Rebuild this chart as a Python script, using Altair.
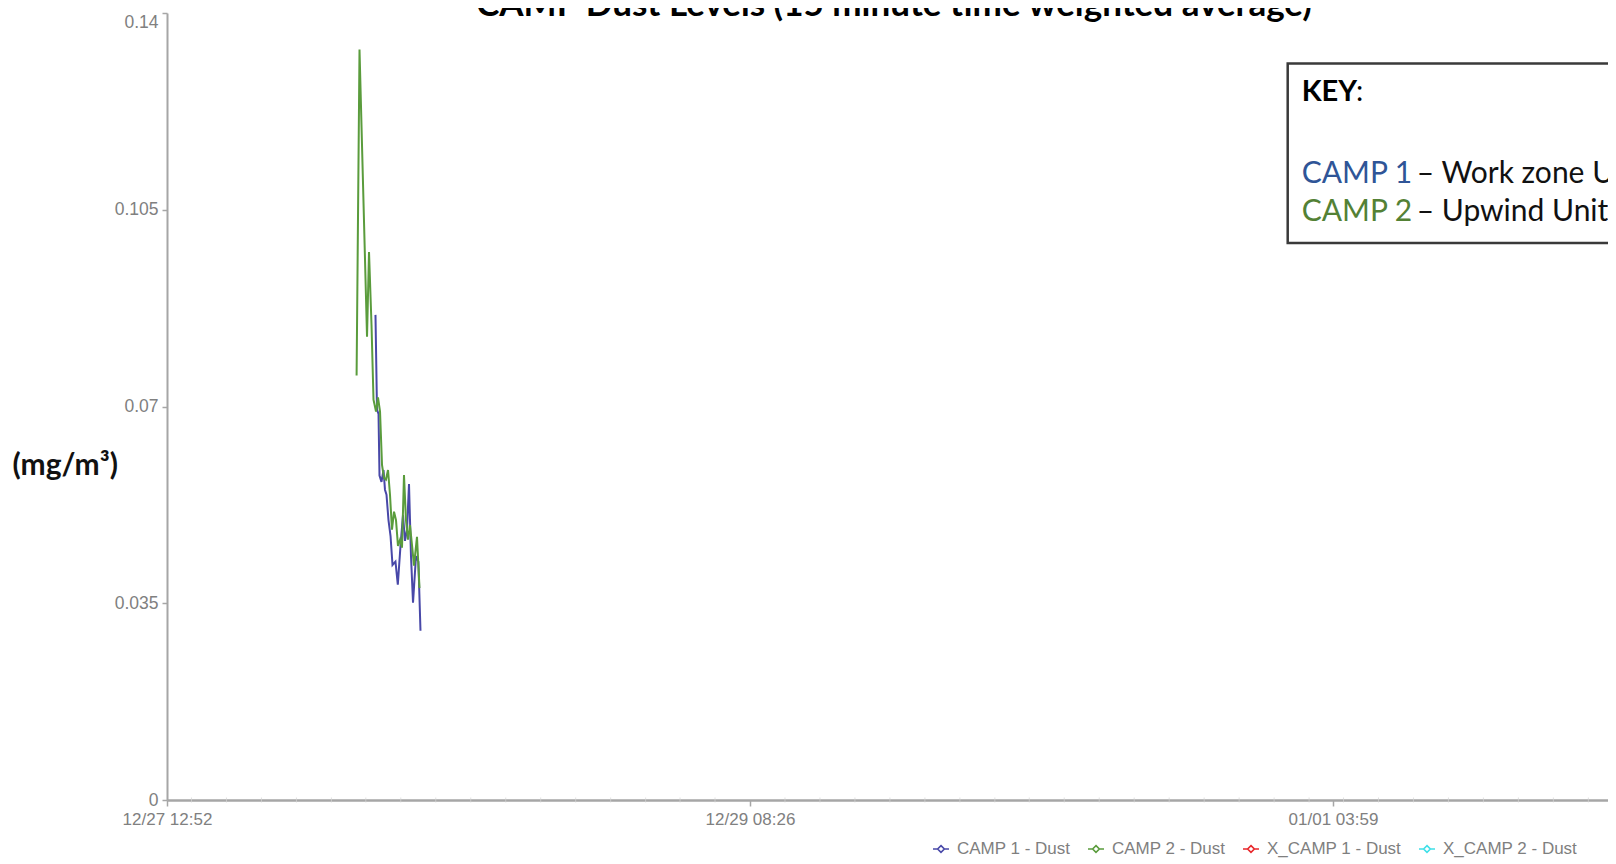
import altair as alt
import pandas as pd

# ---------------- data ----------------
TITLE = "CAMP Dust Levels (15 minute time weighted average)"
Y_TITLE = "(mg/m³)"

series_names = ["CAMP 1 - Dust", "CAMP 2 - Dust", "X_CAMP 1 - Dust", "X_CAMP 2 - Dust"]
series_colors = ["#4848a8", "#5a9c3c", "#e8262a", "#3fe0e8"]

# x positions are expressed in "label intervals" (0 = first date label, 1 = second, ...)
x_tick_values = [0, 1, 2]
x_tick_labels = ["12/27 12:52", "12/29 08:26", "01/01 03:59"]
x_minor_ticks = [0.042, 0.102, 0.162, 0.222, 0.282, 0.341, 0.401, 0.461, 0.521, 0.581,
                 0.641, 0.701, 0.761, 0.821, 0.880, 0.940, 1.060, 1.120, 1.180, 1.240,
                 1.300, 1.360, 1.420, 1.479, 1.539, 1.599, 1.659, 1.719, 1.779, 1.839,
                 1.899, 1.959, 2.018, 2.078, 2.138, 2.198, 2.258, 2.318, 2.378, 2.438]
y_tick_values = [0, 0.035, 0.07, 0.105, 0.14]

camp1_t = [0.3576, 0.3602, 0.3628, 0.3645, 0.3679, 0.3714, 0.3739, 0.3765, 0.3799, 0.3834,
           0.3868, 0.3919, 0.3959, 0.4005, 0.4048, 0.4082, 0.4117, 0.4151, 0.4185, 0.4220,
           0.4271, 0.4312, 0.4348]
camp1_v = [0.0863, 0.0694, 0.0687, 0.0577, 0.0566, 0.0587, 0.0552, 0.0543, 0.0498, 0.0470,
           0.0418, 0.0424, 0.0383, 0.0452, 0.0507, 0.0461, 0.0481, 0.0562, 0.0434, 0.0351,
           0.0434, 0.0424, 0.0301]

camp2_t = [0.3252, 0.3302, 0.3431, 0.3465, 0.3508, 0.3542, 0.3585, 0.3619, 0.3654, 0.3688,
           0.3722, 0.3756, 0.3791, 0.3825, 0.3859, 0.3894, 0.3928, 0.3962, 0.3997, 0.4031,
           0.4065, 0.4099, 0.4134, 0.4168, 0.4202, 0.4237, 0.4288, 0.4331]
camp2_v = [0.0755, 0.1335, 0.0824, 0.0975, 0.0845, 0.0712, 0.0691, 0.0716, 0.0691, 0.0596,
           0.0573, 0.0570, 0.0587, 0.0543, 0.0481, 0.0513, 0.0498, 0.0452, 0.0463, 0.0449,
           0.0578, 0.0498, 0.0463, 0.0489, 0.0454, 0.0417, 0.0468, 0.0377]

KEY_LABEL = "KEY"
key_names = ["CAMP 1", "CAMP 2"]
key_desc = ["– Work zone Unit", "– Upwind Unit"]
key_colors = ["#2f5597", "#538135"]

# ---------------- chart ----------------
W, H = 1441, 787
X_MAX = 2.4717

rows = [{"t": t, "v": v, "series": series_names[0]} for t, v in zip(camp1_t, camp1_v)]
rows += [{"t": t, "v": v, "series": series_names[1]} for t, v in zip(camp2_t, camp2_v)]
df = pd.DataFrame(rows)

label_expr = "[" + ",".join("'%s'" % s for s in x_tick_labels) + "][datum.value]"

xscale = alt.Scale(domain=[0, X_MAX], nice=False, zero=False)
yscale = alt.Scale(domain=[0, 0.14], nice=False)

AX_GRAY = "#a6a6a6"
LBL_GRAY = "#808080"
FONT = "Liberation Sans"
BOLD_FONT = "Lato"

legend_path = "M-1,0H-0.42M0.42,0H1M0,-0.42L0.42,0L0,0.42L-0.42,0Z"

lines = alt.Chart(df).mark_line(strokeWidth=2, interpolate="linear").encode(
    x=alt.X("t:Q", scale=xscale,
            axis=alt.Axis(values=x_tick_values, labelExpr=label_expr, title=None, grid=False,
                          domainColor=AX_GRAY, domainWidth=2.5, tickColor=AX_GRAY, tickSize=6,
                          tickWidth=1.5, labelColor=LBL_GRAY, labelFont=FONT, labelFontSize=17,
                          labelPadding=5, labelFlush=False)),
    y=alt.Y("v:Q", scale=yscale,
            axis=alt.Axis(values=y_tick_values, labelExpr="format(datum.value, '~g')",
                          title=None, grid=False,
                          domainColor=AX_GRAY, domainWidth=2, tickColor=AX_GRAY, tickSize=5,
                          tickWidth=1.5, labelColor=LBL_GRAY, labelFont=FONT, labelFontSize=17.5,
                          labelPadding=4,
                          labelBaseline={"condition": {"test": "datum.value >= 0.139",
                                                       "value": "top"},
                                         "value": "middle"})),
    color=alt.Color("series:N",
                    scale=alt.Scale(domain=series_names, range=series_colors),
                    legend=alt.Legend(orient="none", legendX=765, legendY=827,
                                      direction="horizontal", title=None,
                                      symbolType=legend_path, symbolSize=256,
                                      symbolStrokeWidth=1.6, symbolFillColor="white",
                                      labelFont=FONT, labelFontSize=17, labelColor="#7f7f7f",
                                      labelOffset=7, columnPadding=13, padding=0)),
    order=alt.Order("t:Q"),
)

minor = alt.Chart(pd.DataFrame({"m": x_minor_ticks})).mark_tick(
    orient="vertical", size=5, thickness=1, color="#d4d4d4"
).encode(x=alt.X("m:Q", scale=xscale), y=alt.value(H))

title = alt.Chart(pd.DataFrame({"s": [TITLE]})).mark_text(
    font=BOLD_FONT, fontWeight="bold", fontSize=35, color="#000000",
    align="center", baseline="alphabetic"
).encode(text="s:N", x=alt.value(727), y=alt.value(2.6))

ytitle = alt.Chart(pd.DataFrame({"s": [Y_TITLE]})).mark_text(
    font=BOLD_FONT, fontWeight="bold", fontSize=30, color="#111111",
    align="left", baseline="middle"
).encode(text="s:N", x=alt.value(-154.6), y=alt.value(452.6))

key_box = alt.Chart(pd.DataFrame({"k": [0]})).mark_rect(
    fill="white", stroke="#3a3a3a", strokeWidth=2.5
).encode(x=alt.value(1120.7), x2=alt.value(1600), y=alt.value(50.6), y2=alt.value(229.9))

key_head = alt.Chart(pd.DataFrame({"s": [KEY_LABEL]})).mark_text(
    font=BOLD_FONT, fontWeight="bold", fontSize=29, color="#000000",
    align="left", baseline="alphabetic"
).encode(text="s:N", x=alt.value(1134.7), y=alt.value(88.3))

key_colon = alt.Chart(pd.DataFrame({"s": [":"]})).mark_text(
    font=BOLD_FONT, fontSize=29, color="#000000", align="left", baseline="alphabetic"
).encode(text="s:N", x=alt.value(1189), y=alt.value(88.3))

key_layers = []
for i, (nm, ds, col) in enumerate(zip(key_names, key_desc, key_colors)):
    yb = [170.0, 208.3][i]
    key_layers.append(
        alt.Chart(pd.DataFrame({"s": [nm]})).mark_text(
            font=BOLD_FONT, fontSize=30, color=col, align="left", baseline="alphabetic"
        ).encode(text="s:N", x=alt.value(1134.7), y=alt.value(yb))
    )
    key_layers.append(
        alt.Chart(pd.DataFrame({"s": [ds]})).mark_text(
            font=BOLD_FONT, fontSize=30, color="#111111", align="left", baseline="alphabetic"
        ).encode(text="s:N", x=alt.value(1249.7), y=alt.value(yb))
    )

chart = alt.layer(minor, lines, title, ytitle, key_box, key_head, key_colon, *key_layers).properties(
    width=W, height=H,
    autosize=alt.AutoSizeParams(type="none"),
    padding={"left": 159, "top": 5, "right": 0, "bottom": 64},
    background="white",
).configure_view(stroke=None)

chart.save("out.html", embed_options={"renderer": "svg", "actions": False})
